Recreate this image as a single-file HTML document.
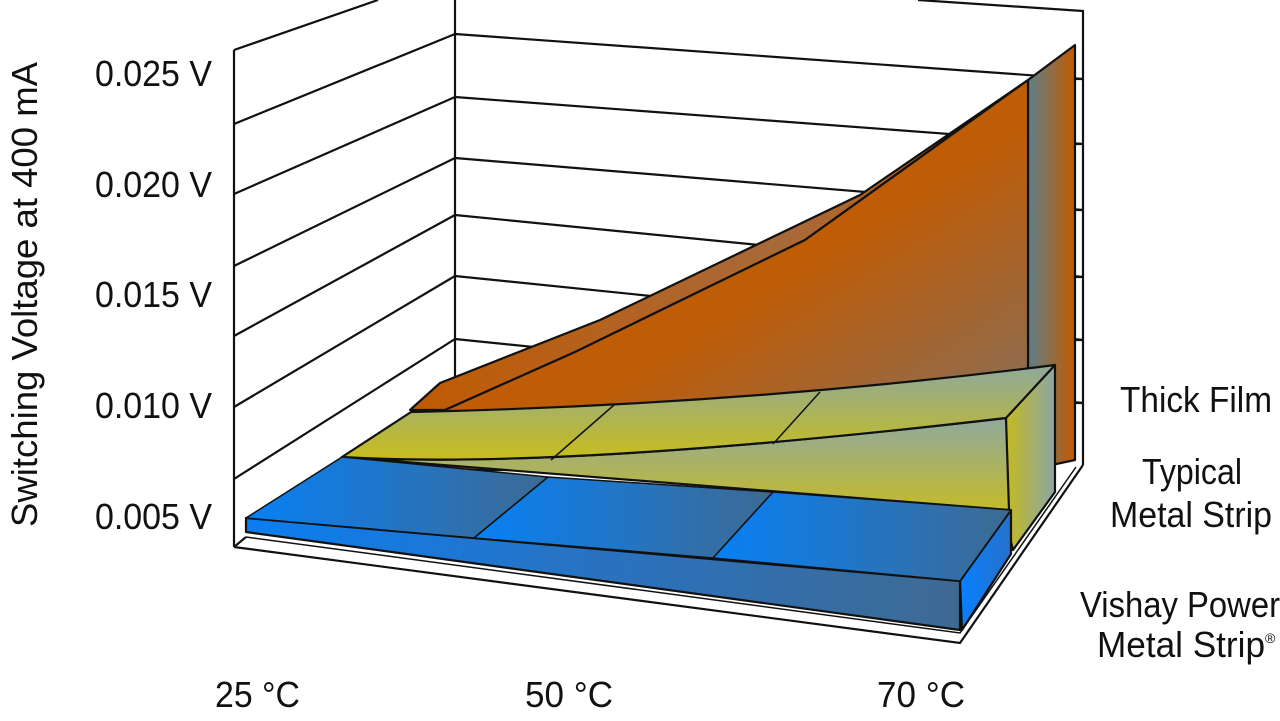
<!DOCTYPE html>
<html><head><meta charset="utf-8"><style>
html,body{margin:0;padding:0;background:#fff;}
svg{display:block;}
text{font-family:"Liberation Sans",sans-serif;fill:#111;}
</style></head><body>
<svg width="1280" height="721" viewBox="0 0 1280 721" xmlns="http://www.w3.org/2000/svg">
<defs>
<linearGradient id="bl" x1="0" y1="0" x2="1" y2="0"><stop offset="0" stop-color="#0780f5"/><stop offset="1" stop-color="#3e6a92"/></linearGradient>
<linearGradient id="blf" x1="0" y1="0" x2="1" y2="0"><stop offset="0" stop-color="#0a7ef0"/><stop offset="0.5" stop-color="#2a72c0"/><stop offset="1" stop-color="#3e6a92"/></linearGradient>
<linearGradient id="blr" x1="0" y1="0" x2="1" y2="0"><stop offset="0" stop-color="#0780ff"/><stop offset="1" stop-color="#2870c8"/></linearGradient>
<linearGradient id="yt" x1="0" y1="0" x2="0" y2="1"><stop offset="0" stop-color="#8ea99c"/><stop offset="1" stop-color="#c8bd1c"/></linearGradient>
<linearGradient id="yf" x1="0" y1="0" x2="0" y2="1"><stop offset="0" stop-color="#8fa99e"/><stop offset="1" stop-color="#c4bb2a"/></linearGradient>
<linearGradient id="yr" x1="0" y1="0" x2="1" y2="0"><stop offset="0" stop-color="#c8bb18"/><stop offset="1" stop-color="#8aa7a6"/></linearGradient>
<linearGradient id="of" x1="0" y1="0" x2="1" y2="1"><stop offset="0" stop-color="#c25a00"/><stop offset="0.55" stop-color="#bf5c06"/><stop offset="1" stop-color="#7f7268"/></linearGradient>
<linearGradient id="ob" x1="0" y1="0" x2="1" y2="0"><stop offset="0" stop-color="#c05a02"/><stop offset="0.6" stop-color="#a8693a"/><stop offset="1" stop-color="#c05a02"/></linearGradient>
<linearGradient id="or" x1="0" y1="0" x2="1" y2="0"><stop offset="0" stop-color="#5f7f8a"/><stop offset="1" stop-color="#c25a00"/></linearGradient>
</defs>
<g stroke="#111" stroke-width="2.2" fill="none">
<line x1="234" y1="50" x2="234" y2="547"/>
<line x1="455" y1="0" x2="455" y2="385"/>
<line x1="234" y1="50" x2="378" y2="0"/>
<line x1="234" y1="124" x2="455" y2="34"/>
<line x1="234" y1="194" x2="455" y2="97"/>
<line x1="234" y1="266" x2="455" y2="158"/>
<line x1="234" y1="336" x2="455" y2="215"/>
<line x1="234" y1="407" x2="455" y2="276"/>
<line x1="234" y1="479" x2="455" y2="339"/>
<line x1="455" y1="34" x2="1083" y2="79"/>
<line x1="455" y1="97" x2="1083" y2="144"/>
<line x1="455" y1="158" x2="1083" y2="210"/>
<line x1="455" y1="215" x2="1083" y2="277"/>
<line x1="455" y1="276" x2="1083" y2="340"/>
<line x1="455" y1="339" x2="1083" y2="403"/>
<line x1="918" y1="0" x2="1083" y2="11"/>
<line x1="1083" y1="10" x2="1083" y2="465"/>
<line x1="1076" y1="79" x2="1083" y2="79"/><line x1="1076" y1="144" x2="1083" y2="144"/><line x1="1076" y1="210" x2="1083" y2="210"/><line x1="1076" y1="277" x2="1083" y2="277"/><line x1="1076" y1="340" x2="1083" y2="340"/><line x1="1076" y1="403" x2="1083" y2="403"/>
<line x1="234" y1="547" x2="246" y2="537"/>
<polyline points="234,547 960,643 1083,465"/>
<polyline points="246,537 960,633 1076,467" stroke-width="1.5"/>
</g>
<g stroke="#111" stroke-width="2.2" stroke-linejoin="round">
<polygon points="1028,80 1075,45 1075,460 1028,470" fill="url(#or)"/>
<path d="M410,410 L440,383 L600,320 L860,195 L1028,80 L805,240 L575,352 L445,410 Z" fill="url(#ob)"/>
<path d="M412,412 L445,410 L575,352 L805,240 L1028,80 L1028,470 L412,470 Z" fill="url(#of)"/>
<polygon points="1003,421 1055,365 1055,492 1013,550 1003,510" fill="url(#yr)"/>
<path d="M342,457 Q560,470 1006,418 L1009,510 Z" fill="url(#yf)"/>
<path d="M411,412 Q740,405 1055,365 L1006,418 Q560,470 342,457 Z" fill="url(#yt)"/>
<line x1="614" y1="405" x2="551" y2="460" stroke-width="1.5"/>
<line x1="820" y1="392" x2="773" y2="444" stroke-width="1.5"/>
<polygon points="960,581 1011,510 1011,554 962,630" fill="url(#blr)"/>
<polygon points="246,518 960,581 960,630 246,532" fill="url(#blf)"/>
<polygon points="246,518 342,457 548,477 474,538" fill="url(#bl)" stroke-width="1.5"/>
<polygon points="474,538 548,477 773,492 713,558" fill="url(#bl)" stroke-width="1.5"/>
<polygon points="713,558 773,492 1011,510 960,581" fill="url(#bl)" stroke-width="1.5"/>
</g>
<g font-size="36">
<text x="95" y="86" textLength="117" lengthAdjust="spacingAndGlyphs">0.025 V</text>
<text x="95" y="197" textLength="117" lengthAdjust="spacingAndGlyphs">0.020 V</text>
<text x="95" y="307" textLength="117" lengthAdjust="spacingAndGlyphs">0.015 V</text>
<text x="95" y="418" textLength="117" lengthAdjust="spacingAndGlyphs">0.010 V</text>
<text x="95" y="529" textLength="117" lengthAdjust="spacingAndGlyphs">0.005 V</text>
<text transform="translate(37,527) rotate(-90)" textLength="465" lengthAdjust="spacingAndGlyphs">Switching Voltage at 400 mA</text>
<text x="215" y="707" textLength="85" lengthAdjust="spacingAndGlyphs">25 °C</text>
<text x="525" y="707" textLength="88" lengthAdjust="spacingAndGlyphs">50 °C</text>
<text x="877" y="707" textLength="88" lengthAdjust="spacingAndGlyphs">70 °C</text>
<text x="1120" y="412" textLength="152" lengthAdjust="spacingAndGlyphs">Thick Film</text>
<text x="1142" y="484" textLength="100" lengthAdjust="spacingAndGlyphs">Typical</text>
<text x="1110" y="527" textLength="162" lengthAdjust="spacingAndGlyphs">Metal Strip</text>
<text x="1080" y="617" textLength="200" lengthAdjust="spacingAndGlyphs">Vishay Power</text>
<text x="1097" y="657" textLength="168" lengthAdjust="spacingAndGlyphs">Metal Strip</text>
<text x="1265" y="643" font-size="14">®</text>
</g>
</svg>
</body></html>
